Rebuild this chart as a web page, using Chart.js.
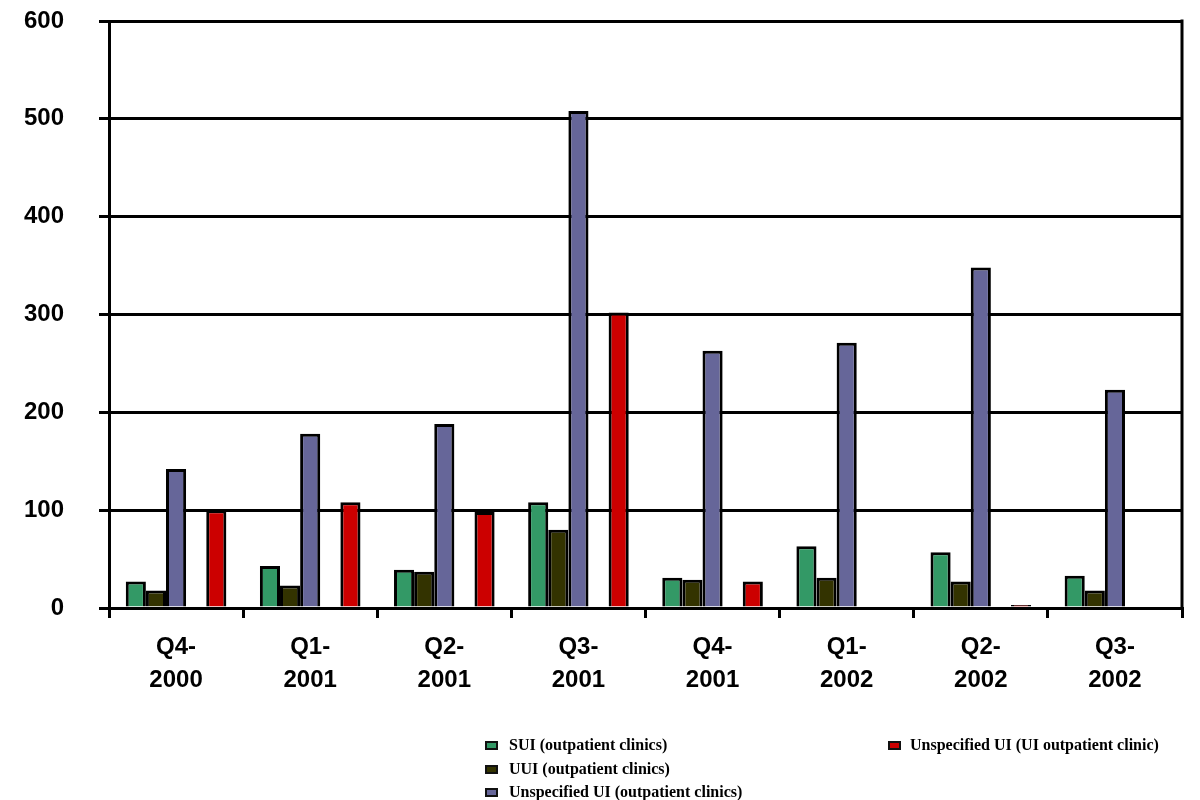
<!DOCTYPE html>
<html>
<head>
<meta charset="utf-8">
<script src="https://cdn.jsdelivr.net/npm/chart.js@4"></script>
<style>
  body { margin: 0; background: #fff; }
  #wrap { position: relative; width: 1200px; height: 800px; }
  #legend { position: absolute; left: 0; top: 0; width: 1200px; height: 800px; pointer-events: none;
            font: bold 16px "Liberation Serif", "Times New Roman", serif; color: #000; }
  .item { position: absolute; height: 20px; line-height: 20px; white-space: nowrap; }
  .item .box { position: absolute; left: 0; top: 6px; width: 9px; height: 5px; border: 2px solid #111; }
  .item .txt { position: absolute; top: 0; }
</style>
</head>
<body>
<div id="wrap">
  <canvas id="chart" width="1200" height="800"></canvas>
  <div id="legend"></div>
</div>
<script>
const quarters = [["Q4-", "2000"], ["Q1-", "2001"], ["Q2-", "2001"], ["Q3-", "2001"],
                  ["Q4-", "2001"], ["Q1-", "2002"], ["Q2-", "2002"], ["Q3-", "2002"]];

const sui         = [27, 43, 39, 108, 31, 63, 57, 33];
const uui         = [18, 23, 37, 80, 29, 31, 27, 18];
const unspecOut   = [142, 178, 188, 508, 263, 271, 348, 223];
const unspecClinic = [100, 108, 98, 302, 27, 0, 3, 0];

const seriesNames = ["SUI (outpatient clinics)", "UUI (outpatient clinics)",
                     "Unspecified UI (outpatient clinics)", "Unspecified UI (UI outpatient clinic)"];
const seriesColors = ["#339966", "#333300", "#666699", "#cc0000"];

// Excel left an empty slot between the purple and red bars
const spacer = quarters.map(() => null);

const yTicks = [0, 100, 200, 300, 400, 500, 600];

function bars(label, data, color) {
    return {
        label: label,
        data: data,
        backgroundColor: color,
        borderColor: "#000",
        borderWidth: 3
    };
}

const rightBorder = {
    id: "rightBorder",
    afterDraw(chart) {
        const a = chart.chartArea, ctx = chart.ctx;
        ctx.save();
        ctx.strokeStyle = "#000";
        ctx.lineWidth = 3;
        ctx.beginPath();
        ctx.moveTo(a.right, a.top - 1.5);
        ctx.lineTo(a.right, a.bottom);
        ctx.stroke();
        ctx.restore();
    }
};

const axisFont = {family: "'Liberation Sans', Arial, sans-serif", size: 24, weight: "bold", lineHeight: 1.36};

const chart = new Chart("chart", {
    type: "bar",
    data: {
        labels: quarters,
        datasets: [
            bars(seriesNames[0], sui, seriesColors[0]),
            bars(seriesNames[1], uui, seriesColors[1]),
            bars(seriesNames[2], unspecOut, seriesColors[2]),
            bars("", spacer, "rgba(0,0,0,0)"),
            bars(seriesNames[3], unspecClinic, seriesColors[3])
        ]
    },
    options: {
        responsive: false,
        animation: false,
        layout: {padding: {top: 21, right: 18, bottom: 72, left: 0}},
        datasets: {bar: {categoryPercentage: 0.75, barPercentage: 1}},
        plugins: {legend: {display: false}, tooltip: {enabled: false}},
        scales: {
            x: {
                grid: {drawOnChartArea: false, offset: true, tickLength: 10, lineWidth: 3, color: "#000"},
                border: {color: "#000", width: 3},
                ticks: {color: "#000", font: axisFont, padding: 13, maxRotation: 0, autoSkip: false},
                afterFit(scale) { scale.height = 120; }
            },
            y: {
                min: 0, max: 600,
                afterBuildTicks(scale) { scale.ticks = yTicks.map(v => ({value: v})); },
                grid: {color: "#000", lineWidth: 3, tickLength: 10},
                border: {color: "#000", width: 3},
                ticks: {color: "#000", font: Object.assign({}, axisFont, {lineHeight: 1}), padding: 35},
                afterFit(scale) {
                    // tick padding would otherwise push the plot down
                    scale.width = 109;
                    scale.paddingTop = 0;
                    scale.paddingBottom = 0;
                }
            }
        }
    },
    plugins: [rightBorder]
});

// legend laid out in columns like the original
const legendSpots = [[485, 735], [485, 759], [485, 782], [888, 735]];
const legendEl = document.getElementById("legend");
seriesNames.forEach((name, i) => {
    const item = document.createElement("div");
    item.className = "item";
    item.style.left = legendSpots[i][0] + "px";
    item.style.top = legendSpots[i][1] + "px";
    item.innerHTML = '<span class="box" style="background:' + seriesColors[i] + '"></span>' +
                     '<span class="txt" style="left:' + (i === 3 ? 22 : 24) + 'px">' + name + '</span>';
    legendEl.appendChild(item);
});
</script>
</body>
</html>
